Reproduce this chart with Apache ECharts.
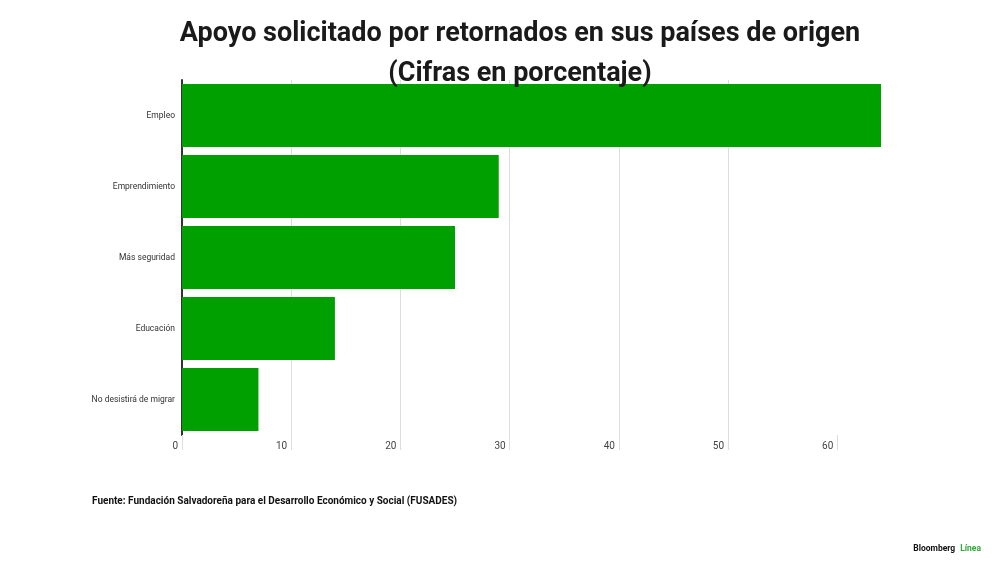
<!DOCTYPE html>
<html><head><meta charset="utf-8">
<script src="https://cdn.jsdelivr.net/npm/echarts@6/dist/echarts.min.js"></script>
<style>html,body{margin:0;padding:0;background:#fff}#c{width:1000px;height:562px}</style>
</head><body><div id="c"></div>
<script>
const categories = ['Empleo', 'Emprendimiento', 'Más seguridad', 'Educación', 'No desistirá de migrar'];
const values = [64, 29, 25, 14, 7];
const xTicks = [0, 10, 20, 30, 40, 50, 60];
const titleLines = ['Apoyo solicitado por retornados en sus países de origen', '(Cifras en porcentaje)'];
const sourceText = 'Fuente: Fundación Salvadoreña para el Desarrollo Económico y Social (FUSADES)';

const font = 'Roboto, "Liberation Sans", sans-serif';
const chart = echarts.init(document.getElementById('c'), null, {renderer: 'canvas'});
chart.setOption({
  animation: false,
  backgroundColor: '#fff',
  title: [{
    text: titleLines.join('\n'), left: 515, top: 9, textAlign: 'center',
    textStyle: {fontFamily: font, fontWeight: 'bold', fontSize: 27, color: '#1a1a1a', lineHeight: 40}
  }, {
    text: sourceText, left: 87, top: 491,
    textStyle: {fontFamily: font, fontWeight: 'bold', fontSize: 10, color: '#111'}
  }, {
    text: '{a|Bloomberg} {b|Línea}', right: 14, top: 535,
    textStyle: {rich: {a: {fontFamily: font, fontWeight: 'bold', fontSize: 8.5, color: '#111'},
                       b: {fontFamily: font, fontWeight: 'bold', fontSize: 8.5, color: '#2ea836'}}}
  }],
  grid: {left: 182, right: 1000 - 881, top: 80, bottom: 562 - 435, containLabel: false},
  xAxis: {
    type: 'value', min: 0, max: 64, interval: 10,
    axisLine: {show: false},
    axisTick: {show: true, length: 15, customValues: xTicks, lineStyle: {color: '#dddddd'}},
    splitLine: {show: true, showMaxLine: false, lineStyle: {color: '#dddddd', width: 1}},
    axisLabel: {
      customValues: xTicks,
      align: 'right', padding: [0, 4, 0, 0], margin: 6,
      fontFamily: font, fontSize: 10, color: '#444'
    }
  },
  yAxis: {
    type: 'category', data: categories, inverse: true,
    axisLine: {show: true, lineStyle: {color: '#333', width: 2}},
    axisTick: {show: false},
    axisLabel: {fontFamily: font, fontSize: 8.5, color: '#333', margin: 7}
  },
  series: [{
    type: 'bar', data: values, barCategoryGap: '11%',
    itemStyle: {color: '#00a000'}
  }]
});
</script></body></html>
